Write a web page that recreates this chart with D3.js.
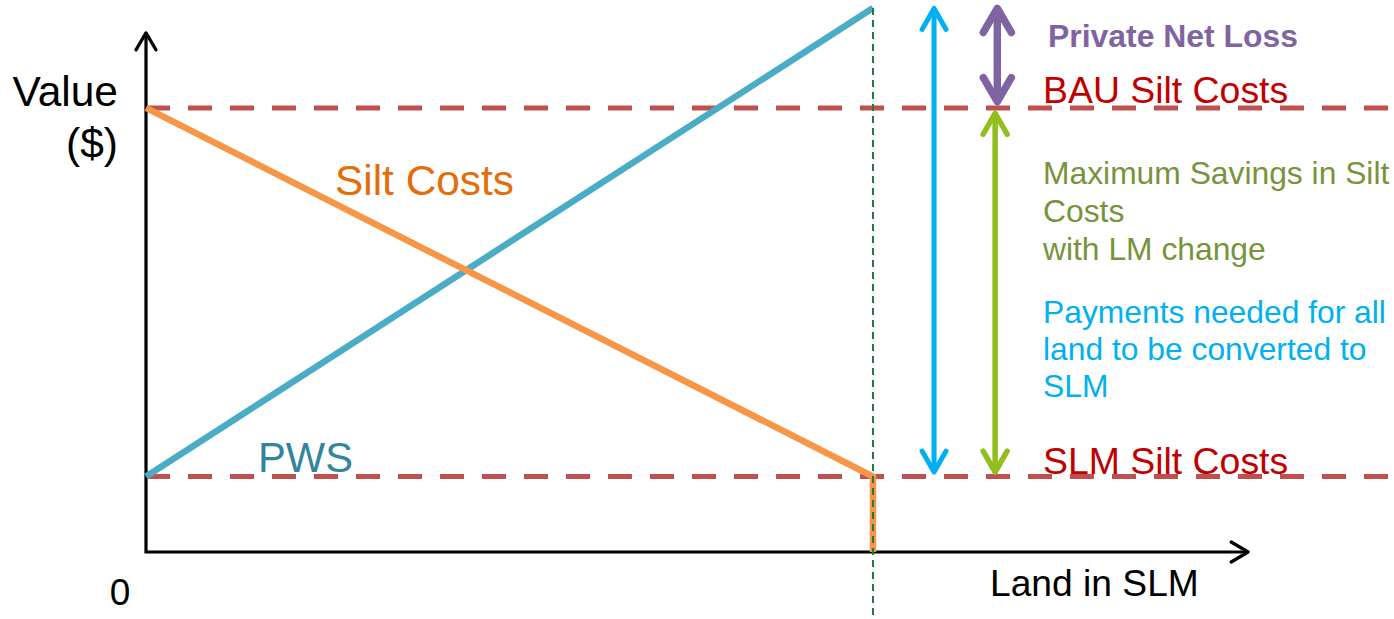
<!DOCTYPE html>
<html>
<head>
<meta charset="utf-8">
<script src="https://cdn.jsdelivr.net/npm/d3@7"></script>
<style>
  html, body { margin: 0; padding: 0; background: #fff; }
  svg { display: block; font-family: "Liberation Sans", Arial, sans-serif; }
</style>
</head>
<body>
<svg id="chart" width="1394" height="619"></svg>
<script>
// ---- data (conceptual diagram, values in arbitrary units) ----
const landShare = [0, 1];              // share of land converted to SLM
const pwsValues = [17, 122.5];         // private welfare surplus (PWS)
const siltCostValues = [100, 17];      // silt costs
const bauSiltCost = 100;               // BAU silt costs level
const slmSiltCost = 17;                // SLM silt costs level
const axisLabels = { y: ["Value", "($)"], x: "Land in SLM", origin: "0" };
const seriesLabels = ["Silt Costs", "PWS"];
const levelLabels = ["BAU Silt Costs", "SLM Silt Costs"];
const annotationLabels = {
  loss: "Private Net Loss",
  savings: ["Maximum Savings in Silt", "Costs", "with LM change"],
  payments: ["Payments needed for all", "land to be converted to", "SLM"]
};

// ---- scales ----
const svg = d3.select("#chart");
const x = d3.scaleLinear().domain([0, 1]).range([146, 873]);
const y = d3.scaleLinear().domain([0, 122.5]).range([552, 8]);

const W = 1394, H = 619;
const xAxisEnd = x(1.516);
const yAxisTop = y(116.9);

// ---- dashed level lines ----
[bauSiltCost, slmSiltCost].forEach(v => {
  svg.append("line")
    .attr("x1", x(0)).attr("x2", W)
    .attr("y1", y(v)).attr("y2", y(v))
    .attr("stroke", "#C0504D").attr("stroke-width", 5)
    .attr("stroke-dasharray", "24,18");
});

// ---- axes (arrowed) ----
function chevron(g, tipX, tipY, dir, half, len, color, width) {
  let pts;
  if (dir === "up") pts = [[tipX - half, tipY + len], [tipX, tipY], [tipX + half, tipY + len]];
  else if (dir === "down") pts = [[tipX - half, tipY - len], [tipX, tipY], [tipX + half, tipY - len]];
  else pts = [[tipX - len, tipY - half], [tipX, tipY], [tipX - len, tipY + half]];
  g.append("path").attr("d", d3.line()(pts))
    .attr("fill", "none").attr("stroke", color).attr("stroke-width", width)
    .attr("stroke-linecap", "round").attr("stroke-linejoin", "round");
}

const axes = svg.append("g");
axes.append("path")
  .attr("d", d3.line()([[x(0), yAxisTop], [x(0), y(0)], [xAxisEnd, y(0)]]))
  .attr("fill", "none").attr("stroke", "#000").attr("stroke-width", 3.2);
chevron(axes, x(0), yAxisTop, "up", 10, 17, "#000", 3.2);
chevron(axes, xAxisEnd, y(0), "right", 10, 17, "#000", 3.2);

// ---- series lines ----
const line = d3.line().x(d => x(d[0])).y(d => y(d[1]));
svg.append("path")
  .datum(landShare.map((l, i) => [l, pwsValues[i]]))
  .attr("d", line).attr("fill", "none")
  .attr("stroke", "#4BACC6").attr("stroke-width", 6.5);

const siltPts = landShare.map((l, i) => [l, siltCostValues[i]]);
siltPts.push([1, 0]);
svg.append("path")
  .datum(siltPts)
  .attr("d", line).attr("fill", "none")
  .attr("stroke", "#F79646").attr("stroke-width", 6.5)
  .attr("stroke-linejoin", "miter");

// ---- vertical dashed marker at full conversion ----
svg.append("line")
  .attr("x1", x(1)).attr("x2", x(1))
  .attr("y1", y(pwsValues[1])).attr("y2", H)
  .attr("stroke", "#1F7A45").attr("stroke-width", 2)
  .attr("stroke-dasharray", "7,5");

// ---- double arrows ----
function dblArrow(xv, v1, v2, color, width, half, len) {
  const g = svg.append("g");
  const xp = x(xv);
  const top = y(v1), bot = y(v2);
  g.append("line").attr("x1", xp).attr("x2", xp).attr("y1", top + 2).attr("y2", bot - 2)
    .attr("stroke", color).attr("stroke-width", width);
  chevron(g, xp, top, "up", half, len, color, width);
  chevron(g, xp, bot, "down", half, len, color, width);
}
// payments needed: SLM level up to PWS max
dblArrow(1.084, pwsValues[1] - 0.1, slmSiltCost + 1, "#00B0F0", 5, 12, 21);
// private net loss: BAU up to PWS max
dblArrow(1.171, pwsValues[1] - 0.1, bauSiltCost + 1.4, "#8064A2", 7.5, 14, 24);
// savings: SLM to BAU
dblArrow(1.168, bauSiltCost - 1.2, slmSiltCost + 1, "#92BE1E", 5.5, 12, 21);

// ---- text ----
function txt(s, xp, yp, size, color, opts = {}) {
  return svg.append("text").attr("x", xp).attr("y", yp)
    .attr("font-size", size).attr("fill", color)
    .attr("text-anchor", opts.anchor || "start")
    .attr("font-weight", opts.weight || "normal")
    .text(s);
}
txt(axisLabels.y[0], 118, 106, 42.5, "#000", { anchor: "end" });
txt(axisLabels.y[1], 118, 158, 42.5, "#000", { anchor: "end" });
txt(axisLabels.origin, 120, 605, 37, "#000", { anchor: "middle" });
txt(axisLabels.x, 990, 596, 37.2, "#000");

txt(seriesLabels[0], 335, 195, 42.4, "#E46C0A");
txt(seriesLabels[1], 258, 472, 41.7, "#31859C");

txt(levelLabels[0], 1043, 103, 37.4, "#C00000");
txt(levelLabels[1], 1043, 474, 37.4, "#C00000");

txt(annotationLabels.loss, 1048, 47, 31.9, "#8064A2", { weight: "bold" });
annotationLabels.savings.forEach((s, i) => txt(s, 1043, 184 + i * 38, 31.8, "#77933C"));
annotationLabels.payments.forEach((s, i) => txt(s, 1043, 323 + i * 37, 31.8, "#00B0F0"));
</script>
</body>
</html>
